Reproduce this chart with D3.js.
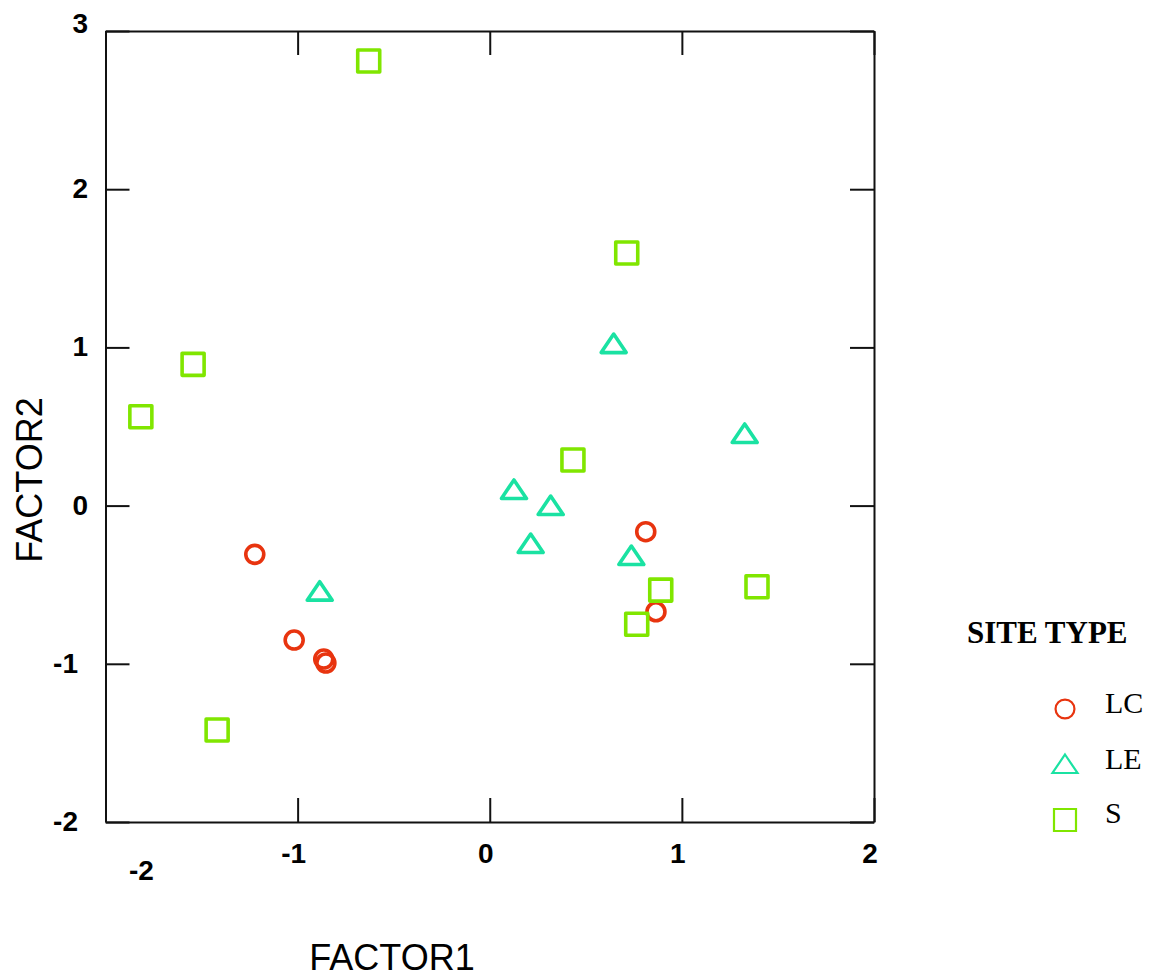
<!DOCTYPE html>
<html>
<head>
<meta charset="utf-8">
<script src="https://cdn.jsdelivr.net/npm/d3@7"></script>
<style>
  body { margin: 0; background: #fff; }
  svg { display: block; }
</style>
</head>
<body>
<div id="chart"></div>
<script>
// site types and colours
var siteTypes = ["LC", "LE", "S"];
var siteColors = ["#e8340f", "#1ae2a2", "#80e600"];

// factor scores
var lcX = [-1.223, 0.812, 0.865, -1.018, -0.864, -0.853];
var lcY = [-0.308, -0.165, -0.671, -0.850, -0.970, -0.995];

var leX = [0.645, 1.327, 0.126, 0.317, 0.213, 0.737, -0.885];
var leY = [1.021, 0.453, 0.099, -0.003, -0.243, -0.319, -0.544];

var sX = [-0.630, 0.713, -1.544, -1.816, 0.433, 0.890, 1.391, 0.765, -1.419];
var sY = [2.810, 1.597, 0.893, 0.562, 0.288, -0.534, -0.513, -0.750, -1.418];

var xTicks = [-2, -1, 0, 1, 2];
var yTicks = [-2, -1, 0, 1, 2, 3];

var width = 1156, height = 978;
var plotL = 105.5, plotR = 874, plotT = 31, plotB = 822;

var svg = d3.select("#chart").append("svg")
    .attr("width", width)
    .attr("height", height);

var x = d3.scaleLinear().domain([-2, 2]).range([plotL, plotR]);
var y = d3.scaleLinear().domain([-2, 3]).range([plotB, plotT]);

var tickLen = 24;

// axes, ticks pointing inward on all four sides
var gAx = svg.append("g");
gAx.append("g").attr("transform", "translate(0," + plotB + ")")
    .call(d3.axisBottom(x).tickValues(xTicks).tickSize(-tickLen).tickSizeOuter(0).tickFormat(""));
gAx.append("g").attr("transform", "translate(0," + plotT + ")")
    .call(d3.axisTop(x).tickValues(xTicks).tickSize(-tickLen).tickSizeOuter(0).tickFormat(""));
gAx.append("g").attr("transform", "translate(" + plotL + ",0)")
    .call(d3.axisLeft(y).tickValues(yTicks).tickSize(-tickLen).tickSizeOuter(0).tickFormat(""));
gAx.append("g").attr("transform", "translate(" + plotR + ",0)")
    .call(d3.axisRight(y).tickValues(yTicks).tickSize(-tickLen).tickSizeOuter(0).tickFormat(""));

gAx.selectAll(".domain").attr("stroke", "#111").attr("stroke-width", 2);
gAx.selectAll(".tick line").attr("stroke", "#111").attr("stroke-width", 2);

// tick labels
var labelFont = "'Liberation Sans', Arial, sans-serif";
svg.append("g").selectAll("text")
    .data(xTicks)
    .enter().append("text")
    .attr("x", function (d) { return d === -2 ? x(d) + 36 : x(d) - 4; })
    .attr("y", function (d) { return d === -2 ? 880 : 863; })
    .attr("text-anchor", "middle")
    .attr("font-family", labelFont)
    .attr("font-weight", "bold")
    .attr("font-size", 28)
    .text(function (d) { return d; });

svg.append("g").selectAll("text")
    .data(yTicks)
    .enter().append("text")
    .attr("x", function (d) { return d < 0 ? 78 : 88; })
    .attr("y", function (d) { return d === 3 ? y(d) + 2 : y(d) + 9; })
    .attr("text-anchor", "end")
    .attr("font-family", labelFont)
    .attr("font-weight", "bold")
    .attr("font-size", 28)
    .text(function (d) { return d; });

// axis titles
svg.append("text")
    .attr("x", 392)
    .attr("y", 970)
    .attr("text-anchor", "middle")
    .attr("font-family", labelFont)
    .attr("font-size", 36)
    .text("FACTOR1");

svg.append("text")
    .attr("transform", "translate(42,480) rotate(-90)")
    .attr("text-anchor", "middle")
    .attr("font-family", labelFont)
    .attr("font-size", 36)
    .text("FACTOR2");

// marker shapes
function markerPath(type, s) {
    if (type === "LC") {
        var r = 9 * s;
        return "M" + (-r) + ",0A" + r + "," + r + " 0 1,0 " + r + ",0A" + r + "," + r + " 0 1,0 " + (-r) + ",0Z";
    }
    if (type === "LE") {
        return "M0," + (-10 * s) + "L" + (12.5 * s) + "," + (8.5 * s) + "L" + (-12.5 * s) + "," + (8.5 * s) + "Z";
    }
    var h = 11 * s;
    return "M" + (-h) + "," + (-h) + "H" + h + "V" + h + "H" + (-h) + "Z";
}

var groups = [
    { type: "LC", xs: lcX, ys: lcY },
    { type: "LE", xs: leX, ys: leY },
    { type: "S", xs: sX, ys: sY }
];

var color = d3.scaleOrdinal().domain(siteTypes).range(siteColors);

var gPts = svg.append("g");
groups.forEach(function (g) {
    var pts = g.xs.map(function (v, i) { return [v, g.ys[i]]; });
    gPts.selectAll(null)
        .data(pts)
        .enter().append("path")
        .attr("transform", function (d) { return "translate(" + x(d[0]) + "," + y(d[1]) + ")"; })
        .attr("d", markerPath(g.type, 1))
        .attr("fill", "none")
        .attr("stroke", color(g.type))
        .attr("stroke-width", 3.6)
        .attr("stroke-linejoin", "round");
});

// legend
var serif = "'Liberation Serif', 'Times New Roman', serif";
svg.append("text")
    .attr("x", 967)
    .attr("y", 643)
    .attr("font-family", serif)
    .attr("font-weight", "bold")
    .attr("font-size", 31)
    .text("SITE TYPE");

var leg = svg.append("g").selectAll("g")
    .data(siteTypes)
    .enter().append("g")
    .attr("transform", function (d, i) { return "translate(1065," + (709 + i * 55.5) + ")"; });

leg.append("path")
    .attr("d", function (d) { return markerPath(d, d === "LC" ? 1.05 : 1); })
    .attr("fill", "none")
    .attr("stroke", function (d) { return color(d); })
    .attr("stroke-width", 2.2);

leg.append("text")
    .attr("x", 40)
    .attr("y", function (d, i) { return i === 2 ? 3 : 4; })
    .attr("font-family", serif)
    .attr("font-size", 30)
    .text(function (d) { return d; });
</script>
</body>
</html>
